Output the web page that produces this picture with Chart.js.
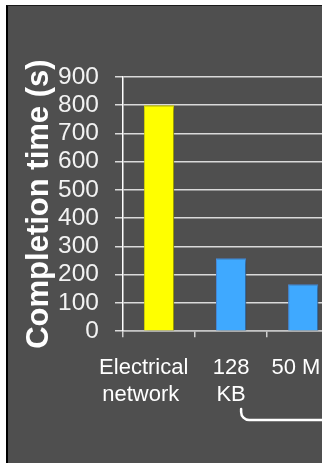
<!DOCTYPE html>
<html>
<head>
<meta charset="utf-8">
<script src="https://cdn.jsdelivr.net/npm/chart.js@4"></script>
<style>
  html, body { margin: 0; padding: 0; background: #ffffff; overflow: hidden; }
  body { width: 322px; height: 463px; position: relative; }
  #slide {
    position: absolute; left: 6px; top: 5px; width: 400px; height: 470px;
    background: #4f4f4f; border-left: 2px solid #000; border-top: 1px solid #1a1a1a;
  }
  #myChart { position: absolute; left: 0; top: 0; }
</style>
</head>
<body>
<div id="slide"></div>
<canvas id="myChart" width="353" height="463"></canvas>
<script>
// categories (trailing spaces nudge the first label left like the slide)
const categories = [["Electrical     ", "network      "], ["128", "KB"], "50 MB"];
const completionTimes = [800, 258, 166];
const barColors = ["#ffff00", "#3fa9ff", "#3fa9ff"];
const barBorders = ["#e2e200", "#4a8ee0", "#4a8ee0"];
const yTicks = { min: 0, max: 900, step: 100 };

const fontFamily = "'Liberation Sans', Arial, Helvetica, sans-serif";

// soft shadow under the bars
const barShadow = {
  id: "barShadow",
  beforeDatasetsDraw(chart) {
    const ctx = chart.ctx;
    ctx.save();
    ctx.shadowColor = "rgba(0,0,0,0.45)";
    ctx.shadowBlur = 4;
    ctx.shadowOffsetX = 2;
    ctx.shadowOffsetY = 2;
  },
  afterDatasetsDraw(chart) {
    chart.ctx.restore();
  },
};

// bracket under the two buffer sizes
const bracket = {
  id: "bracket",
  afterDraw(chart) {
    const ctx = chart.ctx;
    const x0 = chart.scales.x.getPixelForValue(1) + 10;
    ctx.save();
    ctx.strokeStyle = "#ffffff";
    ctx.lineWidth = 2.5;
    ctx.lineCap = "round";
    ctx.beginPath();
    ctx.moveTo(x0, 409);
    ctx.lineTo(x0, 412);
    ctx.arcTo(x0, 420, x0 + 9, 420, 8);
    ctx.lineTo(chart.width, 420);
    ctx.stroke();
    ctx.restore();
  },
};

var ctx = document.getElementById("myChart").getContext("2d");
var chart = new Chart(ctx, {
  type: "bar",
  data: {
    labels: categories,
    datasets: [
      {
        data: completionTimes,
        backgroundColor: barColors,
        borderColor: barBorders,
        borderWidth: 1,
        barPercentage: 0.525,
        categoryPercentage: 0.8,
      },
    ],
  },
  options: {
    responsive: false,
    animation: false,
    layout: { padding: { left: 20.4, top: 77, right: 0, bottom: 37 } },
    plugins: { legend: { display: false }, tooltip: { enabled: false } },
    scales: {
      x: {
        grid: {
          display: true,
          drawOnChartArea: false,
          drawTicks: true,
          tickLength: 6,
          color: "#cfcfcf",
          lineWidth: 1.5,
        },
        border: { color: "#c4c4c4", width: 1.5 },
        ticks: {
          color: "#ffffff",
          padding: 18,
          maxRotation: 0,
          autoSkip: false,
          font: { family: fontFamily, size: 22, lineHeight: 1.2 },
        },
      },
      y: {
        min: yTicks.min,
        max: yTicks.max,
        grid: {
          color: "#dadada",
          lineWidth: 1.5,
          drawTicks: true,
          tickLength: 8,
        },
        border: { color: "#ffffff", width: 1.5 },
        ticks: {
          stepSize: yTicks.step,
          autoSkip: false,
          color: "#f2f2f2",
          padding: 16,
          font: { family: fontFamily, size: 24.5 },
        },
        title: {
          display: true,
          text: "Completion time (s)",
          color: "#ffffff",
          padding: { top: 0, bottom: -15.5 },
          font: { family: fontFamily, size: 31, weight: "bold", lineHeight: 1.2 },
        },
      },
    },
  },
  plugins: [barShadow, bracket],
});
</script>
</body>
</html>
